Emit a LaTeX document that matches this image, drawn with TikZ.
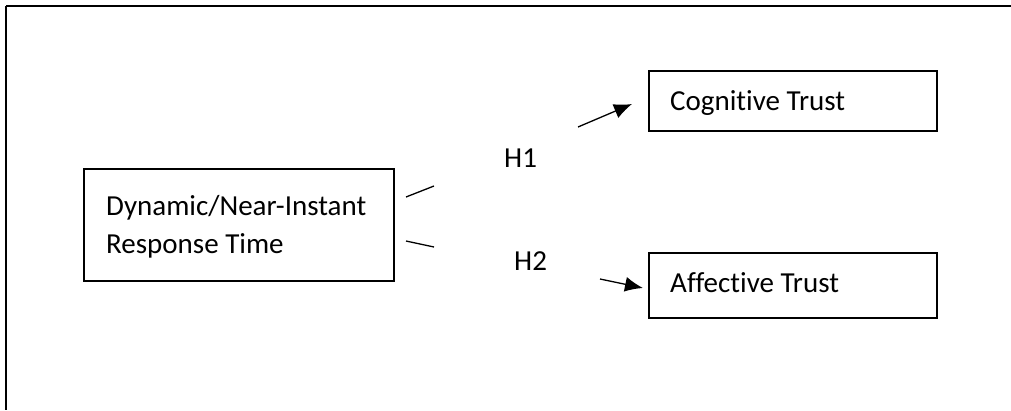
\documentclass[tikz,border=0pt]{standalone}
\usepackage{fontspec}
\setmainfont[Ligatures=NoCommon]{Carlito}
\usetikzlibrary{arrows.meta}
\begin{document}
\begin{tikzpicture}[x=1pt,y=-1pt,
  frame/.style={line width=2.5pt},
  box/.style={draw,line width=2pt},
  lbl/.style={inner sep=0pt,anchor=base west,font=\fontsize{29}{38}\selectfont},
  link/.style={line width=1.3pt},
  arr/.style={line width=1.3pt,-{Latex[length=18pt,width=15pt]}}]
\useasboundingbox (0,0) rectangle (1011,410);
% outer frame: top and left edges only
\coordinate (tl) at (6,6);
\coordinate (tr) at (1011,6);
\coordinate (bl) at (6,410);
\draw[frame] (tl) -- (tr);
\draw[frame] (tl) -- (bl);
% boxes
\draw[box] (84,169) rectangle (394,281);
\draw[box] (649,71) rectangle (937,131);
\draw[box] (649,253) rectangle (937,318);
% texts
\node[lbl] (src1) at (106,215) {Dynamic/Near-Instant};
\node[lbl] (src2) at (106,253) {Response Time};
\node[lbl] (cog) at (670,110) {Cognitive Trust};
\node[lbl] (aff) at (670,292) {Affective Trust};
\node[lbl] (h1) at (504,167) {H1};
\node[lbl] (h2) at (514,270) {H2};
% broken connectors
\coordinate (a1) at (406,197);
\coordinate (a2) at (434,186);
\coordinate (b1) at (406,241);
\coordinate (b2) at (434,247);
\coordinate (c1) at (578,127);
\coordinate (c2) at (632,104);
\coordinate (d1) at (600,279);
\coordinate (d2) at (643,288);
\draw[link] (a1) -- (a2);
\draw[link] (b1) -- (b2);
\draw[arr] (c1) -- (c2);
\draw[arr] (d1) -- (d2);
\end{tikzpicture}
\end{document}
